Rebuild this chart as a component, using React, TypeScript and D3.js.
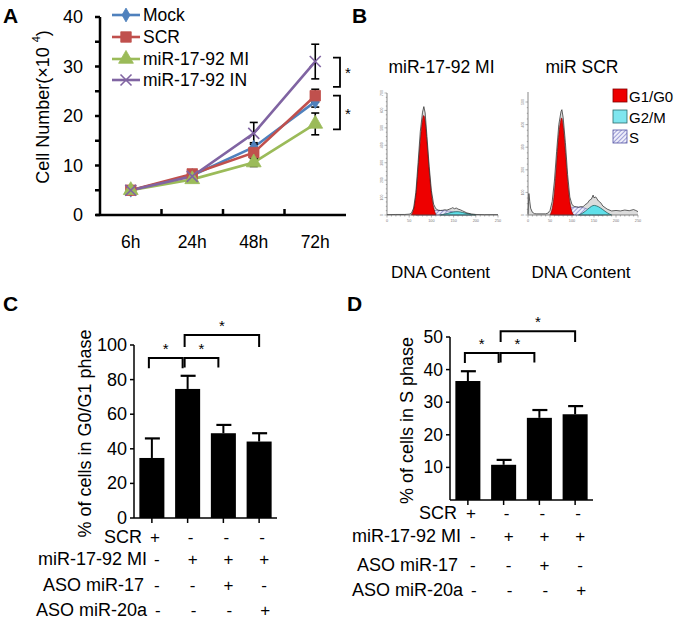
import * as d3 from "d3";
import { useEffect } from "react";

const FONT = "'Liberation Sans', Arial, sans-serif";

// ---- Panel A: cell growth ----
const timepoints = ["6h", "24h", "48h", "72h"];
const seriesNames = ["Mock", "SCR", "miR-17-92 MI", "miR-17-92 IN"];
const seriesColors = ["#4f81bd", "#c0504d", "#9bbb59", "#8064a2"];
const mockValues = [5, 8.0, 13.7, 22.9];
const scrValues = [5, 8.3, 12.6, 24.1];
const miValues = [5, 7.2, 10.6, 18.4];
const inValues = [5, 7.8, 16.5, 31.0];
const mockErr = [0.3, 0.5, 0.9, 1.1];
const scrErr = [0.3, 0.6, 1.1, 1.3];
const miErr = [0.3, 0.5, 0.8, 2.2];
const inErr = [0.3, 0.5, 2.2, 3.5];
const aTicks = [0, 10, 20, 30, 40];
const aMinor = [5, 15, 25, 35];
// significance brackets on the 72h end (value ranges)
const aBrackets: [number, number][] = [
  [31.8, 25.9],
  [24.1, 17.3],
];

// ---- Panel B: flow cytometry histograms [channel, count] ----
const h1Outline: [number, number][] = [
  [0, 2], [20, 3], [40, 3], [50, 5], [55, 10], [60, 40], [65, 130], [70, 300],
  [75, 480], [80, 590], [83, 622], [86, 585], [90, 450], [95, 280], [100, 140],
  [105, 62], [110, 36], [115, 28], [120, 26], [125, 27], [130, 30], [135, 28],
  [140, 33], [145, 38], [148, 42], [152, 36], [156, 40], [160, 34], [165, 30],
  [170, 24], [180, 12], [190, 6], [200, 3], [220, 2], [250, 2],
];
const h1G1: [number, number][] = [
  [55, 0], [60, 25], [65, 100], [70, 260], [75, 430], [80, 560], [83, 578],
  [86, 550], [90, 420], [95, 250], [100, 110], [105, 35], [110, 4],
];
const h1S: [number, number][] = [
  [65, 0], [80, 8], [90, 15], [100, 22], [110, 26], [120, 26], [130, 25],
  [140, 22], [150, 18], [160, 14], [170, 9], [180, 4], [190, 0],
];
const h1G2: [number, number][] = [
  [120, 0], [130, 5], [140, 12], [150, 18], [160, 20], [170, 15], [180, 8],
  [190, 3], [200, 0],
];
const h2Outline: [number, number][] = [
  [0, 5], [2, 95], [4, 60], [6, 30], [10, 12], [15, 6], [20, 5], [40, 5],
  [45, 8], [50, 20], [55, 60], [60, 150], [65, 280], [70, 400], [75, 458],
  [77, 466], [80, 430], [85, 320], [90, 180], [95, 80], [100, 46], [105, 38],
  [110, 36], [115, 34], [120, 37], [125, 36], [130, 46], [135, 52], [140, 66],
  [144, 70], [148, 88], [150, 76], [154, 80], [160, 62], [165, 55], [170, 40],
  [180, 26], [190, 18], [200, 20], [210, 18], [220, 22], [230, 19], [240, 24],
  [245, 20], [250, 15],
];
const h2G1: [number, number][] = [
  [50, 0], [55, 20], [60, 90], [65, 230], [70, 370], [75, 428], [77, 434],
  [80, 400], [85, 280], [90, 140], [95, 50], [100, 10], [104, 0],
];
const h2S: [number, number][] = [
  [60, 0], [80, 15], [90, 25], [100, 33], [110, 36], [120, 35], [130, 30],
  [140, 22], [150, 12], [160, 4], [170, 0],
];
const h2G2: [number, number][] = [
  [115, 0], [125, 8], [135, 25], [145, 40], [150, 44], [160, 38], [170, 24],
  [180, 9], [190, 0],
];
const h1YTicks = [0, 100, 200, 300, 400, 500, 600, 700];
const h2YTicks = [0, 100, 200, 300, 400, 500];
const hXTicks = [0, 50, 100, 150, 200, 250];
const phaseNames = ["G1/G0", "G2/M", "S"];

// ---- Panels C & D: bar charts ----
const groups = ["g1", "g2", "g3", "g4"];
const g0g1Values = [34.7, 74.6, 49.0, 44.2];
const g0g1Err = [11.3, 7.6, 4.8, 4.8];
const sPhaseValues = [36.5, 10.8, 25.2, 26.3];
const sPhaseErr = [3.0, 1.5, 2.4, 2.5];
const cTicks = [0, 20, 40, 60, 80, 100];
const dTicks = [10, 20, 30, 40, 50];
const rowLabels = ["SCR", "miR-17-92 MI", "ASO miR-17", "ASO miR-20a"];
const scrSigns = ["+", "-", "-", "-"];
const miSigns = ["-", "+", "+", "+"];
const aso17Signs = ["-", "-", "+", "-"];
const aso20aSigns = ["-", "-", "-", "+"];
// [from, to, top value, leg bottom value]
const cBrackets: [number, number, number, number][] = [
  [0, 1, 92.5, 86.5],
  [1, 2, 92.5, 87],
  [1, 3, 105.8, 98.8],
];
const dBrackets: [number, number, number, number][] = [
  [0, 1, 45.1, 42.0],
  [1, 2, 45.1, 42.2],
  [1, 3, 51.8, 48.5],
];

function Marker({ kind, x, y, color }: { kind: number; x: number; y: number; color: string }) {
  if (kind === 3) {
    const s = 5.5;
    return (
      <g stroke={color} strokeWidth={1.6}>
        <line x1={x - s} y1={y - s} x2={x + s} y2={y + s} />
        <line x1={x - s} y1={y + s} x2={x + s} y2={y - s} />
      </g>
    );
  }
  const type = [d3.symbolDiamond, d3.symbolSquare, d3.symbolTriangle][kind];
  const size = [55, 110, 95][kind];
  return (
    <path
      d={d3.symbol().type(type).size(size)() as string}
      transform={`translate(${x},${y})`}
      fill={color}
      stroke={color}
      strokeWidth={0.8}
    />
  );
}

function PanelA() {
  const x = d3.scaleBand().domain(timepoints).range([100, 346]);
  const y = d3.scaleLinear().domain([0, 40]).range([215, 17]);
  const cx = (t: string) => (x(t) as number) + x.bandwidth() / 2;
  const values = [mockValues, scrValues, miValues, inValues];
  const errs = [mockErr, scrErr, miErr, inErr];
  const line = d3
    .line<number>()
    .x((_, i) => cx(timepoints[i]))
    .y((d) => y(d));
  const legendY = [15, 37, 59, 80];
  return (
    <g fontFamily={FONT}>
      <text x={3} y={23} fontSize={21} fontWeight="bold">A</text>
      {/* y axis */}
      <line x1={100} x2={100} y1={y(40)} y2={y(0) + 1} stroke="#000" strokeWidth={2.5} />
      {[...aTicks, ...aMinor].map((t) => (
        <line key={t} x1={95} x2={100} y1={y(t)} y2={y(t)} stroke="#000" strokeWidth={2.5} />
      ))}
      {aTicks.map((t) => (
        <text key={t} x={83} y={y(t)} textAnchor="end" dominantBaseline="central" fontSize={18}>
          {t}
        </text>
      ))}
      {/* x axis */}
      <line x1={96} x2={346} y1={y(0)} y2={y(0)} stroke="#000" strokeWidth={2.5} />
      {timepoints.slice(1).map((t) => (
        <line key={t} x1={x(t)} x2={x(t)} y1={y(0) - 6} y2={y(0)} stroke="#000" strokeWidth={2.5} />
      ))}
      {timepoints.map((t) => (
        <text key={t} x={cx(t)} y={242} textAnchor="middle" dominantBaseline="central" fontSize={17.5}>
          {t}
        </text>
      ))}
      <text
        transform={`translate(43,${107}) rotate(-90)`}
        textAnchor="middle"
        dominantBaseline="central"
        fontSize={18}
      >
        Cell Number(×10 <tspan fontSize={11} dy={-7}>4</tspan>
        <tspan dy={7}>)</tspan>
      </text>
      {/* series */}
      {values.map((v, k) => (
        <g key={k}>
          <path d={line(v) as string} fill="none" stroke={seriesColors[k]} strokeWidth={2.6} />
        </g>
      ))}
      {values.map((v, k) =>
        v.map((d, i) => {
          const e = errs[k][i];
          const px = cx(timepoints[i]);
          return (
            <g key={`${k}-${i}`} stroke="#000" strokeWidth={1.6}>
              <line x1={px} x2={px} y1={y(d + e)} y2={y(d - e)} />
              <line x1={px - 4} x2={px + 4} y1={y(d + e)} y2={y(d + e)} />
              <line x1={px - 4} x2={px + 4} y1={y(d - e)} y2={y(d - e)} />
            </g>
          );
        }),
      )}
      {values.map((v, k) =>
        v.map((d, i) => (
          <Marker key={`${k}-${i}`} kind={k} x={cx(timepoints[i])} y={y(d)} color={seriesColors[k]} />
        )),
      )}
      {/* legend */}
      {seriesNames.map((name, k) => (
        <g key={name}>
          <line x1={112} x2={140} y1={legendY[k]} y2={legendY[k]} stroke={seriesColors[k]} strokeWidth={2.6} />
          <Marker kind={k} x={126} y={legendY[k]} color={seriesColors[k]} />
          <text x={143} y={legendY[k]} dominantBaseline="central" fontSize={17.5}>
            {name}
          </text>
        </g>
      ))}
      {/* brackets */}
      {aBrackets.map(([top, bottom], i) => (
        <g key={i}>
          <path
            d={`M333,${y(top)}H340V${y(bottom)}H333`}
            fill="none"
            stroke="#000"
            strokeWidth={1.8}
          />
          <text x={345} y={(y(top) + y(bottom)) / 2 + 6} fontSize={15}>
            *
          </text>
        </g>
      ))}
    </g>
  );
}

function Histogram({
  xRange,
  yRange,
  yMax,
  axisTop,
  yTicks,
  outline,
  g1,
  s,
  g2,
  title,
}: {
  xRange: [number, number];
  yRange: [number, number];
  yMax: number;
  axisTop: number;
  yTicks: number[];
  outline: [number, number][];
  g1: [number, number][];
  s: [number, number][];
  g2: [number, number][];
  title: string;
}) {
  const x = d3.scaleLinear().domain([0, 250]).range(xRange);
  const y = d3.scaleLinear().domain([0, yMax]).range(yRange);
  const area = (curve: d3.CurveFactory) =>
    d3
      .area<[number, number]>()
      .x((d) => x(d[0]))
      .y0(y(0))
      .y1((d) => y(d[1]))
      .curve(curve);
  const lineO = d3
    .line<[number, number]>()
    .x((d) => x(d[0]))
    .y((d) => y(d[1]))
    .curve(d3.curveLinear);
  const minorY = d3.range(0, yMax + 1, 25);
  const minorX = d3.range(0, 251, 10);
  const midX = (xRange[0] + xRange[1]) / 2;
  return (
    <g fontFamily={FONT}>
      <text x={midX - 1} y={67} textAnchor="middle" dominantBaseline="central" fontSize={17.5}>
        {title}
      </text>
      <text x={midX - 2} y={272} textAnchor="middle" dominantBaseline="central" fontSize={17}>
        DNA Content
      </text>
      <path d={area(d3.curveLinear)(outline) as string} fill="#dcdcdc" />
      <path d={area(d3.curveBasis)(s) as string} fill="url(#hatch)" stroke="#6a6ab0" strokeWidth={0.6} />
      <path d={area(d3.curveBasis)(g2) as string} fill="#5fe0ea" stroke="#206060" strokeWidth={0.8} />
      <path d={area(d3.curveBasis)(g1) as string} fill="#ee0000" stroke="#7a0000" strokeWidth={0.6} />
      <path d={lineO(outline) as string} fill="none" stroke="#222" strokeWidth={0.7} />
      {/* axes */}
      <line x1={xRange[0]} x2={xRange[0]} y1={axisTop} y2={yRange[0]} stroke="#555" strokeWidth={0.7} />
      <line x1={xRange[0]} x2={xRange[1]} y1={yRange[0]} y2={yRange[0]} stroke="#555" strokeWidth={0.7} />
      {minorY.map((t) => (
        <line key={t} x1={xRange[0] - (t % 100 === 0 ? 2.5 : 1.2)} x2={xRange[0]} y1={y(t)} y2={y(t)} stroke="#666" strokeWidth={0.5} />
      ))}
      {minorX.map((t) => (
        <line key={t} x1={x(t)} x2={x(t)} y1={yRange[0]} y2={yRange[0] + (t % 50 === 0 ? 2.5 : 1.5)} stroke="#666" strokeWidth={0.5} />
      ))}
      {yTicks.map((t) => (
        <text
          key={t}
          transform={`translate(${xRange[0] - 4},${y(t)}) rotate(-90)`}
          textAnchor="middle"
          fontSize={3.5}
          fill="#777"
        >
          {t}
        </text>
      ))}
      {hXTicks.map((t) => (
        <text key={t} x={x(t)} y={yRange[0] + 7} textAnchor="middle" fontSize={3.8} fill="#777">
          {t}
        </text>
      ))}
    </g>
  );
}

function PanelB() {
  const legendY = [96, 117, 137];
  const fills = ["#ee0000", "#7fe6ef", "url(#hatch)"];
  const strokes = ["#800000", "#2a6a6a", "#5050a0"];
  return (
    <g fontFamily={FONT}>
      <defs>
        <pattern id="hatch" width={3} height={3} patternUnits="userSpaceOnUse" patternTransform="rotate(45)">
          <rect width={3} height={3} fill="#eeeefa" />
          <line x1={0} x2={0} y1={0} y2={3} stroke="#5a5ab8" strokeWidth={1.1} />
        </pattern>
      </defs>
      <text x={352} y={23} fontSize={21} fontWeight="bold">B</text>
      <Histogram
        xRange={[387, 498]}
        yRange={[215, 93]}
        yMax={700}
        axisTop={93}
        yTicks={h1YTicks}
        outline={h1Outline}
        g1={h1G1}
        s={h1S}
        g2={h1G2}
        title="miR-17-92 MI"
      />
      <Histogram
        xRange={[528, 638]}
        yRange={[215, 102]}
        yMax={500}
        axisTop={92}
        yTicks={h2YTicks}
        outline={h2Outline}
        g1={h2G1}
        s={h2S}
        g2={h2G2}
        title="miR SCR"
      />
      {phaseNames.map((p, i) => (
        <g key={p}>
          <rect x={613} y={legendY[i] - 7} width={14} height={13} fill={fills[i]} stroke={strokes[i]} strokeWidth={0.8} />
          <text x={629} y={legendY[i]} dominantBaseline="central" fontSize={15}>
            {p}
          </text>
        </g>
      ))}
    </g>
  );
}

function BarPanel({
  letter,
  letterX,
  range,
  yDomain,
  yRange,
  ticks,
  values,
  errs,
  brackets,
  yLabel,
  yLabelX,
  tickFont,
  labelRight,
  rowY,
}: {
  letter: string;
  letterX: number;
  range: [number, number];
  yDomain: [number, number];
  yRange: [number, number];
  ticks: number[];
  values: number[];
  errs: number[];
  brackets: [number, number, number, number][];
  yLabel: string;
  yLabelX: number;
  tickFont: number;
  labelRight: number[];
  rowY: number[];
}) {
  const x = d3.scaleBand().domain(groups).range(range).paddingInner(0.3).paddingOuter(0.15);
  const y = d3.scaleLinear().domain(yDomain).range(yRange);
  const cx = (i: number) => (x(groups[i]) as number) + x.bandwidth() / 2;
  const signs = [scrSigns, miSigns, aso17Signs, aso20aSigns];
  const rowShift = [3, 5, 5, 6];
  const base = y(0);
  return (
    <g fontFamily={FONT}>
      <text x={letterX} y={311} fontSize={21} fontWeight="bold">{letter}</text>
      {values.map((v, i) => (
        <g key={i}>
          <rect x={x(groups[i])} y={y(v)} width={x.bandwidth()} height={base - y(v)} fill="#000" />
          <line x1={cx(i)} x2={cx(i)} y1={y(v)} y2={y(v + errs[i])} stroke="#000" strokeWidth={2} />
          <line x1={cx(i) - 7} x2={cx(i) + 8} y1={y(v + errs[i])} y2={y(v + errs[i])} stroke="#000" strokeWidth={2.2} />
        </g>
      ))}
      <line x1={range[0]} x2={range[0]} y1={y(yDomain[1])} y2={base} stroke="#000" strokeWidth={1.5} />
      <line x1={range[0]} x2={range[1]} y1={base} y2={base} stroke="#000" strokeWidth={1.5} />
      {ticks.map((t) => (
        <g key={t}>
          <line x1={range[0] - 4} x2={range[0]} y1={y(t)} y2={y(t)} stroke="#000" strokeWidth={1.5} />
          <text x={range[0] - 7} y={y(t)} textAnchor="end" dominantBaseline="central" fontSize={tickFont}>
            {t}
          </text>
        </g>
      ))}
      {groups.map((g, i) => (
        <line key={g} x1={cx(i)} x2={cx(i)} y1={base} y2={base + 5} stroke="#000" strokeWidth={1.5} />
      ))}
      <text
        transform={`translate(${yLabelX},${(y(yDomain[1]) + base) / 2 + 2}) rotate(-90)`}
        textAnchor="middle"
        dominantBaseline="central"
        fontSize={18}
      >
        {yLabel}
      </text>
      {brackets.map(([a, b, top, leg], i) => {
        const x1 = cx(a) - 3;
        const x2 = b - a > 1 ? cx(b) : cx(b) - 5;
        return (
          <g key={i}>
            <path
              d={`M${x1},${y(leg)}V${y(top)}H${x2}V${y(leg)}`}
              fill="none"
              stroke="#000"
              strokeWidth={2}
            />
            <text x={(x1 + x2) / 2} y={y(top) - 4} textAnchor="middle" fontSize={15}>
              *
            </text>
          </g>
        );
      })}
      {rowLabels.map((label, r) => (
        <g key={label}>
          <text x={labelRight[r]} y={rowY[r]} textAnchor="end" dominantBaseline="central" fontSize={18}>
            {label}
          </text>
          {signs[r].map((s, i) => (
            <text
              key={i}
              x={cx(i) + rowShift[r]}
              y={rowY[r]}
              textAnchor="middle"
              dominantBaseline="central"
              fontSize={17}
            >
              {s}
            </text>
          ))}
        </g>
      ))}
    </g>
  );
}

export default function App() {
  useEffect(() => {
    document.body.style.margin = "0";
  }, []);
  return (
    <svg width={675} height={619} style={{ display: "block", background: "#fff" }}>
      <PanelA />
      <PanelB />
      <BarPanel
        letter="C"
        letterX={3}
        range={[134, 277]}
        yDomain={[0, 100]}
        yRange={[518, 345]}
        ticks={cTicks}
        values={g0g1Values}
        errs={g0g1Err}
        brackets={cBrackets}
        yLabel="% of cells in G0/G1 phase"
        yLabelX={85}
        tickFont={18}
        labelRight={[142, 147, 144, 147]}
        rowY={[537, 559, 585, 610]}
      />
      <BarPanel
        letter="D"
        letterX={347}
        range={[450, 593]}
        yDomain={[0, 50]}
        yRange={[500, 337]}
        ticks={dTicks}
        values={sPhaseValues}
        errs={sPhaseErr}
        brackets={dBrackets}
        yLabel="% of cells in S phase"
        yLabelX={407}
        tickFont={17.5}
        labelRight={[457, 461, 458, 463]}
        rowY={[513, 536, 565, 590]}
      />
    </svg>
  );
}
